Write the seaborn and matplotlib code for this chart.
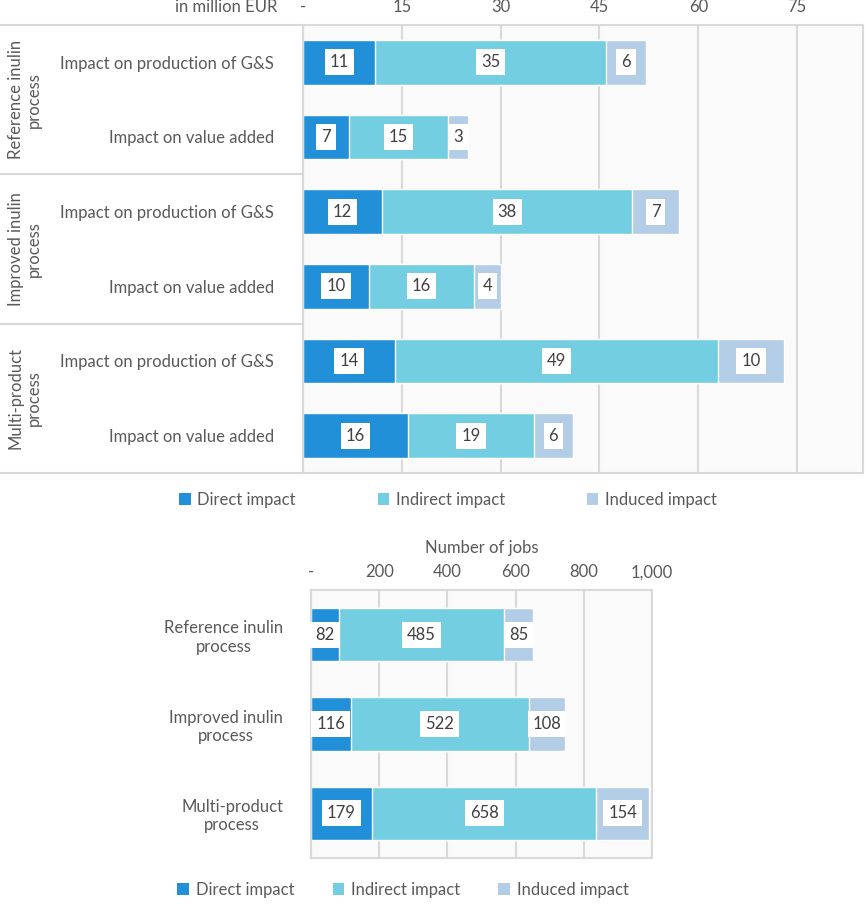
import matplotlib
matplotlib.use("Agg")
import matplotlib.pyplot as plt
import matplotlib.transforms as mtrans
from matplotlib.patches import Patch
from matplotlib.lines import Line2D
import seaborn as sns
import pandas as pd

# process groups and the two impact rows in each (top chart)
processes = ["Reference inulin\nprocess", "Improved inulin\nprocess", "Multi-product\nprocess"]
impact_types = ["Impact on production of G&S", "Impact on value added"]

# in million EUR, order: ref G&S, ref VA, improved G&S, improved VA, multi G&S, multi VA
eur_direct = [11, 7, 12, 10, 14, 16]
eur_indirect = [35, 15, 38, 16, 49, 19]
eur_induced = [6, 3, 7, 4, 10, 6]
eur_ticks = [0, 15, 30, 45, 60, 75]
eur_ticklabels = ["-", "15", "30", "45", "60", "75"]

# number of jobs per process (bottom chart)
jobs_direct = [82, 116, 179]
jobs_indirect = [485, 522, 658]
jobs_induced = [85, 108, 154]
jobs_ticks = [0, 200, 400, 600, 800, 1000]
jobs_ticklabels = ["-", "200", "400", "600", "800", "1,000"]

series = ["Direct impact", "Indirect impact", "Induced impact"]
colors = ["#2190d8", "#72cee0", "#b3cde7"]

GRID = "#d9d9d9"
TXT = "#595959"
FS = 12

sns.set_style("white")
plt.rcParams["font.family"] = ["Lato", "DejaVu Sans"]
plt.rcParams["font.size"] = FS

W, H = 865, 907
fig = plt.figure(figsize=(W / 100, H / 100), dpi=100)


# draws one stacked horizontal bar chart, totals first so the smaller sums sit on top
def stacked(ax, rows, direct, indirect, induced):
    df = pd.DataFrame({"row": rows, "direct": direct, "indirect": indirect, "induced": induced})
    df["c1"] = df["direct"]
    df["c2"] = df["direct"] + df["indirect"]
    df["c3"] = df["c2"] + df["induced"]
    for col, color in zip(["c3", "c2", "c1"], colors[::-1]):
        sns.barplot(data=df, x=col, y="row", orient="h", color=color, saturation=1,
                    width=0.6, errorbar=None, ax=ax)
    # value labels in white boxes
    for i, r in df.iterrows():
        left = 0
        for val in (r["direct"], r["indirect"], r["induced"]):
            ax.text(left + val / 2, i, f"{val:,}", ha="center", va="center", color="#404040",
                    fontsize=FS, zorder=5,
                    bbox=dict(boxstyle="square,pad=0.3", facecolor="white", edgecolor="none"))
            left += val
    ax.set_xlabel("")
    ax.set_ylabel("")
    ax.set_facecolor("#fafafa")
    ax.set_axisbelow(True)
    ax.grid(axis="x", color=GRID, lw=1.5)
    ax.grid(axis="y", visible=False)
    for s in ax.spines.values():
        s.set_visible(True)
        s.set_color(GRID)
        s.set_linewidth(1.5)
    ax.xaxis.tick_top()
    ax.tick_params(axis="both", length=0, colors=TXT, labelsize=FS)


# ---- top chart: million EUR ----
ax1 = fig.add_axes([303 / W, 1 - 473 / H, 560 / W, 448 / H])
rows = [f"r{i}" for i in range(6)]
stacked(ax1, rows, eur_direct, eur_indirect, eur_induced)
ax1.set_xlim(0, 85)
ax1.set_xticks(eur_ticks)
ax1.set_xticklabels(eur_ticklabels)
ax1.tick_params(axis="x", pad=7)
ax1.tick_params(axis="y", pad=21)
ax1.set_yticks(range(6))
ax1.set_yticklabels(impact_types * 3)
ax1.set_ylim(5.5, -0.5)

blend = mtrans.blended_transform_factory(fig.transFigure, ax1.transData)
for g, name in enumerate(processes):
    ax1.text(25 / W, 2 * g + 0.5, name, rotation=90, ha="center", va="center",
             multialignment="center", color=TXT, fontsize=FS, transform=blend)
for y in [-0.5, 1.5, 3.5, 5.5]:
    ax1.add_line(Line2D([0, 303 / W], [y, y], transform=blend, color=GRID, lw=1.5, clip_on=False))
fig.text(277 / W, 1 - 7 / H, "in million EUR", ha="right", va="center", color=TXT, fontsize=FS)

handles = [Patch(facecolor=c, edgecolor="none") for c in colors]
fig.legend(handles, series, ncol=3, loc="center", bbox_to_anchor=(448 / W, 1 - 500 / H),
           frameon=False, handlelength=0.7, handleheight=0.7, handletextpad=0.4,
           columnspacing=4.9, labelcolor=TXT, fontsize=FS)

# ---- bottom chart: number of jobs ----
ax2 = fig.add_axes([311 / W, 1 - 858 / H, 341 / W, 268 / H])
stacked(ax2, processes, jobs_direct, jobs_indirect, jobs_induced)
ax2.set_xlim(0, 1000)
ax2.set_xticks(jobs_ticks)
ax2.set_xticklabels(jobs_ticklabels)
ax2.tick_params(axis="x", pad=7)
ax2.tick_params(axis="y", pad=20)
for lbl in ax2.get_yticklabels():
    lbl.set_multialignment("center")
ax2.xaxis.set_label_position("top")
ax2.set_xlabel("Number of jobs", color=TXT, fontsize=FS, labelpad=8)

fig.legend(handles, series, ncol=3, loc="center", bbox_to_anchor=(403 / W, 1 - 890 / H),
           frameon=False, handlelength=0.7, handleheight=0.7, handletextpad=0.4,
           columnspacing=2.3, labelcolor=TXT, fontsize=FS)

fig.savefig("out.png", dpi=100, facecolor="white")
